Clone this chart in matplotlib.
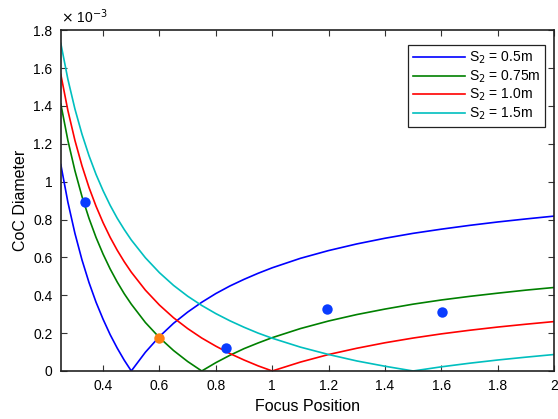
import matplotlib.pyplot as plt
from matplotlib.ticker import FormatStrFormatter

plt.rcParams['font.family'] = ['Liberation Sans', 'DejaVu Sans']

# focus positions (m) where the curves were read
focus = [0.25, 0.275, 0.3, 0.325, 0.35, 0.375, 0.4, 0.425, 0.45, 0.475, 0.5, 0.55, 0.6, 0.65,
         0.7, 0.75, 0.8, 0.85, 0.9, 0.95, 1.0, 1.1, 1.2, 1.3, 1.4, 1.5, 1.6, 1.7, 1.8, 1.9, 2.0]

# CoC diameter, in units of 1e-3
coc_s05 = [1.090, 0.892, 0.727, 0.587, 0.467, 0.363, 0.273, 0.192, 0.121, 0.057, 0.0, 0.099,
           0.182, 0.252, 0.311, 0.363, 0.409, 0.449, 0.484, 0.516, 0.545, 0.595, 0.636, 0.671,
           0.701, 0.727, 0.749, 0.769, 0.787, 0.803, 0.818]
coc_s075 = [1.410, 1.218, 1.058, 0.922, 0.806, 0.705, 0.617, 0.539, 0.470, 0.408, 0.353, 0.256,
            0.176, 0.108, 0.050, 0.0, 0.044, 0.083, 0.118, 0.148, 0.176, 0.224, 0.264, 0.298,
            0.327, 0.353, 0.375, 0.394, 0.411, 0.427, 0.441]
coc_s10 = [1.566, 1.376, 1.218, 1.084, 0.969, 0.870, 0.783, 0.706, 0.638, 0.577, 0.522, 0.427,
           0.348, 0.281, 0.224, 0.174, 0.131, 0.092, 0.058, 0.027, 0.0, 0.047, 0.087, 0.120,
           0.149, 0.174, 0.196, 0.215, 0.232, 0.247, 0.261]
coc_s15 = [1.730, 1.541, 1.384, 1.251, 1.137, 1.038, 0.952, 0.875, 0.807, 0.747, 0.692, 0.598,
           0.519, 0.452, 0.395, 0.346, 0.303, 0.265, 0.231, 0.200, 0.173, 0.126, 0.087, 0.053,
           0.025, 0.0, 0.022, 0.041, 0.058, 0.073, 0.087]

labels = ['S$_2$ = 0.5m', 'S$_2$ = 0.75m', 'S$_2$ = 1.0m', 'S$_2$ = 1.5m']
colors = ['#0000ff', '#008000', '#ff0000', '#00bfbf']

# measured points
pts_x = [0.335, 0.835, 1.193, 1.601]
pts_y = [0.894, 0.123, 0.326, 0.310]
orange_x = [0.599]
orange_y = [0.176]

fig = plt.figure(figsize=(5.58, 4.19), dpi=100)
ax = fig.add_axes([0.109, 0.1146, 0.884, 0.8134])

for ys, lab, col in zip([coc_s05, coc_s075, coc_s10, coc_s15], labels, colors):
    ax.plot(focus, ys, color=col, lw=1.2, label=lab)

ax.plot(pts_x, pts_y, 'o', color='#0a3cff', ms=7.5, mec='none')
ax.plot(orange_x, orange_y, 'o', color='#ff7f10', ms=7.5, mec='none')

ax.set_xlim(0.25, 2)
ax.set_ylim(0, 1.8)
ax.set_xticks([0.4, 0.6, 0.8, 1.0, 1.2, 1.4, 1.6, 1.8, 2.0])
ax.set_yticks([0, 0.2, 0.4, 0.6, 0.8, 1.0, 1.2, 1.4, 1.6, 1.8])
ax.xaxis.set_major_formatter(FormatStrFormatter('%g'))
ax.yaxis.set_major_formatter(FormatStrFormatter('%g'))
ax.tick_params(direction='in', top=True, right=True, labelsize=10, length=4, pad=6,
               width=0.8, colors='#333333', labelcolor='black')
for sp in ax.spines.values():
    sp.set_linewidth(1.2)
    sp.set_color('#222222')

ax.text(0.0, 1.012, r'$\times$ 10$^{-3}$', transform=ax.transAxes, fontsize=10,
        ha='left', va='bottom')

ax.set_xlabel('Focus Position', fontsize=11.5)
ax.set_ylabel('CoC Diameter', fontsize=11.5)

leg = ax.legend(loc='upper right', bbox_to_anchor=(0.982, 0.956), borderaxespad=0,
                fontsize=10, fancybox=False, edgecolor='#222222', framealpha=1,
                handlelength=3.7, borderpad=0.35, labelspacing=0.15, handletextpad=0.3)
leg.get_frame().set_linewidth(0.9)

fig.savefig('out.png', dpi=100)
